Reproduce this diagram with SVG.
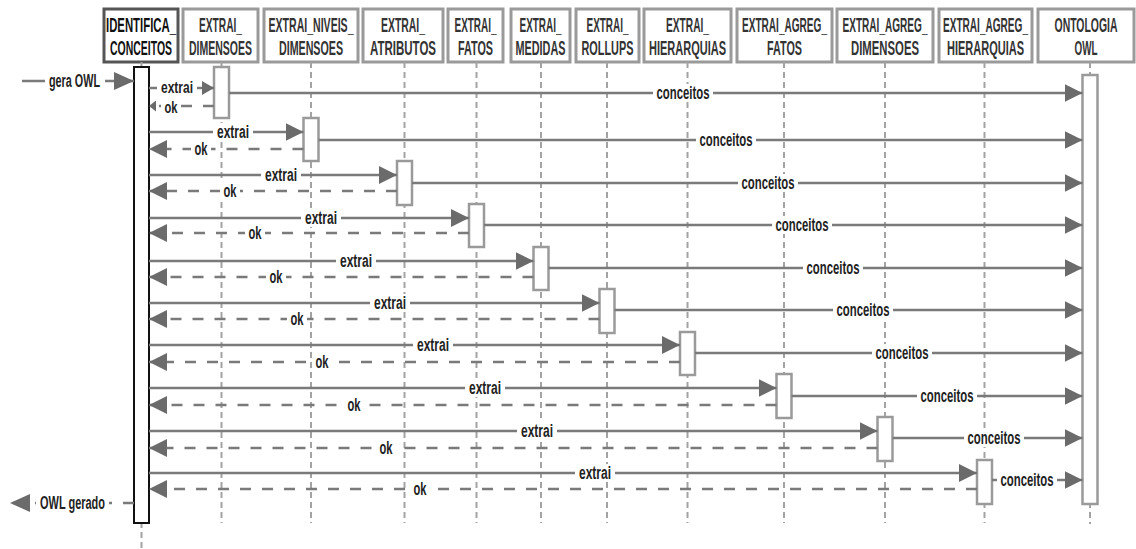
<svg xmlns="http://www.w3.org/2000/svg" width="1136" height="549" viewBox="0 0 1136 549">
<style>
.box{fill:#fff;stroke:#9a9a9a;stroke-width:3}
.box0{fill:#fff;stroke:#555;stroke-width:3}
.hd{font-family:"Liberation Sans",Arial,sans-serif;font-weight:bold;font-size:19.5px;fill:#333;text-anchor:middle}
.life{stroke:#a3a3a3;stroke-width:2;stroke-dasharray:6 4;fill:none}
.act{fill:#fff;stroke:#9a9a9a;stroke-width:2.5}
.act0{fill:#fff;stroke:#111;stroke-width:2}
.msg{stroke:#7a7a7a;stroke-width:2.5;fill:none;marker-end:url(#ah)}
.ret{stroke:#7a7a7a;stroke-width:2.5;stroke-dasharray:11 11;fill:none;marker-end:url(#ah)}
.lb{font-family:"Liberation Sans",Arial,sans-serif;font-weight:bold;font-size:19px;fill:#222;text-anchor:middle}
.lbs{font-size:17px}
.bg{fill:#fff}
</style>
<defs>
<marker id="ah" markerUnits="userSpaceOnUse" markerWidth="18" markerHeight="18" viewBox="0 0 18 18" refX="18" refY="9" orient="auto"><path d="M0,0 L18,9 L0,18 z" fill="#6b6b6b"/></marker>
<marker id="ahs" markerUnits="userSpaceOnUse" markerWidth="12" markerHeight="14" viewBox="0 0 12 14" refX="12" refY="7" orient="auto"><path d="M0,0 L12,7 L0,14 z" fill="#6b6b6b"/></marker>
<marker id="ahxs" markerUnits="userSpaceOnUse" markerWidth="7" markerHeight="11" viewBox="0 0 7 11" refX="7" refY="5.5" orient="auto"><path d="M0,0 L7,5.5 L0,11 z" fill="#6b6b6b"/></marker>
<marker id="ahl" markerUnits="userSpaceOnUse" markerWidth="20" markerHeight="18" viewBox="0 0 20 18" refX="20" refY="9" orient="auto"><path d="M0,0 L20,9 L0,18 z" fill="#6b6b6b"/></marker>
</defs>
<rect width="1136" height="549" fill="#fff"/>

<g id="p1">
<rect class="box0" x="104" y="9" width="74" height="53"/>
<text class="hd" transform="translate(141 32) scale(0.57 1)" textLength="122.8" lengthAdjust="spacingAndGlyphs" style="fill:#111">IDENTIFICA_</text>
<text class="hd" transform="translate(141 55) scale(0.57 1)" textLength="108.8" lengthAdjust="spacingAndGlyphs" style="fill:#111">CONCEITOS</text>
<line class="life" x1="141.5" y1="62" x2="141.5" y2="549"/>
<rect class="act0" x="134" y="67" width="15" height="456"/>
</g>
<g id="p2">
<rect class="box" x="183" y="9" width="75" height="53"/>
<text class="hd" transform="translate(220.5 32) scale(0.57 1)" textLength="75.4" lengthAdjust="spacingAndGlyphs">EXTRAI_</text>
<text class="hd" transform="translate(220.5 55) scale(0.57 1)" textLength="110.5" lengthAdjust="spacingAndGlyphs">DIMENSOES</text>
<line class="life" x1="221.5" y1="62" x2="221.5" y2="523"/>
<rect class="act" x="214" y="67" width="15" height="51"/>
</g>
<g id="p3">
<rect class="box" x="264" y="9" width="94" height="53"/>
<text class="hd" transform="translate(311 32) scale(0.57 1)" textLength="149.1" lengthAdjust="spacingAndGlyphs">EXTRAI_NIVEIS_</text>
<text class="hd" transform="translate(311 55) scale(0.57 1)" textLength="112.3" lengthAdjust="spacingAndGlyphs">DIMENSOES</text>
<line class="life" x1="311" y1="62" x2="311" y2="523"/>
<rect class="act" x="303.5" y="118" width="15" height="43"/>
</g>
<g id="p4">
<rect class="box" x="363" y="9" width="80" height="53"/>
<text class="hd" transform="translate(403 32) scale(0.57 1)" textLength="77.2" lengthAdjust="spacingAndGlyphs">EXTRAI_</text>
<text class="hd" transform="translate(403 55) scale(0.57 1)" textLength="115.8" lengthAdjust="spacingAndGlyphs">ATRIBUTOS</text>
<line class="life" x1="404.5" y1="62" x2="404.5" y2="523"/>
<rect class="act" x="397" y="161" width="15" height="44"/>
</g>
<g id="p5">
<rect class="box" x="448" y="9" width="55" height="53"/>
<text class="hd" transform="translate(475.5 32) scale(0.57 1)" textLength="73.7" lengthAdjust="spacingAndGlyphs">EXTRAI_</text>
<text class="hd" transform="translate(475.5 55) scale(0.57 1)" textLength="61.4" lengthAdjust="spacingAndGlyphs">FATOS</text>
<line class="life" x1="476.5" y1="62" x2="476.5" y2="523"/>
<rect class="act" x="469" y="204" width="15" height="43"/>
</g>
<g id="p6">
<rect class="box" x="511" y="9" width="59" height="53"/>
<text class="hd" transform="translate(540.5 32) scale(0.57 1)" textLength="73.7" lengthAdjust="spacingAndGlyphs">EXTRAI_</text>
<text class="hd" transform="translate(540.5 55) scale(0.57 1)" textLength="87.7" lengthAdjust="spacingAndGlyphs">MEDIDAS</text>
<line class="life" x1="541" y1="62" x2="541" y2="523"/>
<rect class="act" x="533.5" y="247" width="15" height="43"/>
</g>
<g id="p7">
<rect class="box" x="576" y="9" width="63" height="53"/>
<text class="hd" transform="translate(607.5 32) scale(0.57 1)" textLength="73.7" lengthAdjust="spacingAndGlyphs">EXTRAI_</text>
<text class="hd" transform="translate(607.5 55) scale(0.57 1)" textLength="91.2" lengthAdjust="spacingAndGlyphs">ROLLUPS</text>
<line class="life" x1="607" y1="62" x2="607" y2="523"/>
<rect class="act" x="599.5" y="289" width="15" height="44"/>
</g>
<g id="p8">
<rect class="box" x="644" y="9" width="87" height="53"/>
<text class="hd" transform="translate(687.5 32) scale(0.57 1)" textLength="75.4" lengthAdjust="spacingAndGlyphs">EXTRAI_</text>
<text class="hd" transform="translate(687.5 55) scale(0.57 1)" textLength="135.1" lengthAdjust="spacingAndGlyphs">HIERARQUIAS</text>
<line class="life" x1="687.5" y1="62" x2="687.5" y2="523"/>
<rect class="act" x="680" y="332" width="15" height="43"/>
</g>
<g id="p9">
<rect class="box" x="737" y="9" width="95" height="53"/>
<text class="hd" transform="translate(784.5 32) scale(0.57 1)" textLength="149.1" lengthAdjust="spacingAndGlyphs">EXTRAI_AGREG_</text>
<text class="hd" transform="translate(784.5 55) scale(0.57 1)" textLength="61.4" lengthAdjust="spacingAndGlyphs">FATOS</text>
<line class="life" x1="784" y1="62" x2="784" y2="523"/>
<rect class="act" x="776.5" y="374" width="15" height="44"/>
</g>
<g id="p10">
<rect class="box" x="837" y="9" width="96" height="53"/>
<text class="hd" transform="translate(885 32) scale(0.57 1)" textLength="149.1" lengthAdjust="spacingAndGlyphs">EXTRAI_AGREG_</text>
<text class="hd" transform="translate(885 55) scale(0.57 1)" textLength="119.3" lengthAdjust="spacingAndGlyphs">DIMENSOES</text>
<line class="life" x1="885" y1="62" x2="885" y2="523"/>
<rect class="act" x="877.5" y="417" width="15" height="44"/>
</g>
<g id="p11">
<rect class="box" x="939" y="9" width="93" height="53"/>
<text class="hd" transform="translate(985.5 32) scale(0.57 1)" textLength="149.1" lengthAdjust="spacingAndGlyphs">EXTRAI_AGREG_</text>
<text class="hd" transform="translate(985.5 55) scale(0.57 1)" textLength="135.1" lengthAdjust="spacingAndGlyphs">HIERARQUIAS</text>
<line class="life" x1="984.5" y1="62" x2="984.5" y2="523"/>
<rect class="act" x="977" y="460" width="15" height="44"/>
</g>
<g id="p12">
<rect class="box" x="1038" y="9" width="96" height="53"/>
<text class="hd" transform="translate(1086 32) scale(0.57 1)" textLength="110.5" lengthAdjust="spacingAndGlyphs">ONTOLOGIA</text>
<text class="hd" transform="translate(1086 55) scale(0.57 1)" textLength="40.4" lengthAdjust="spacingAndGlyphs">OWL</text>
<line class="life" x1="1090" y1="62" x2="1090" y2="524"/>
<rect class="act" x="1082.5" y="75" width="15" height="429"/>
</g>

<g id="connectors">
<line class="msg" x1="22" y1="81" x2="134" y2="81" style="marker-end:url(#ahl)"/>
<rect class="bg" x="45" y="72" width="60" height="18"/><text class="lb" transform="translate(74.5 87) scale(0.6 1)" textLength="85" lengthAdjust="spacingAndGlyphs">gera OWL</text>

<line class="msg" x1="149" y1="88" x2="214" y2="88" style="marker-end:url(#ahs)"/>
<line class="ret" x1="214" y1="106" x2="149" y2="106" style="marker-end:url(#ahxs)"/>
<line class="msg" x1="229" y1="93" x2="1082.5" y2="93"/>
<rect class="bg" x="157" y="80" width="40" height="16"/><text class="lb lbs" transform="translate(177 93) scale(0.67 1)" textLength="47.8" lengthAdjust="spacingAndGlyphs">extrai</text>
<rect class="bg" x="161" y="98" width="20" height="16"/><text class="lb lbs" transform="translate(171 112.5) scale(0.67 1)" textLength="19.4" lengthAdjust="spacingAndGlyphs">ok</text>
<rect class="bg" x="653" y="84" width="60" height="18"/><text class="lb" transform="translate(683 99) scale(0.6 1)" textLength="88.3" lengthAdjust="spacingAndGlyphs">conceitos</text>

<line class="msg" x1="149" y1="132" x2="303.5" y2="132"/>
<line class="ret" x1="303.5" y1="149" x2="149" y2="149"/>
<line class="msg" x1="318.5" y1="140" x2="1082.5" y2="140"/>
<rect class="bg" x="213" y="123" width="40" height="18"/><text class="lb" transform="translate(233 138) scale(0.6 1)" textLength="53.3" lengthAdjust="spacingAndGlyphs">extrai</text>
<rect class="bg" x="191" y="140" width="20" height="18"/><text class="lb" transform="translate(201 155) scale(0.6 1)" textLength="21.7" lengthAdjust="spacingAndGlyphs">ok</text>
<rect class="bg" x="696" y="131" width="60" height="18"/><text class="lb" transform="translate(726 146) scale(0.6 1)" textLength="88.3" lengthAdjust="spacingAndGlyphs">conceitos</text>

<line class="msg" x1="149" y1="175" x2="397" y2="175"/>
<line class="ret" x1="397" y1="191" x2="149" y2="191"/>
<line class="msg" x1="412" y1="183" x2="1082.5" y2="183"/>
<rect class="bg" x="261" y="166" width="40" height="18"/><text class="lb" transform="translate(281 181) scale(0.6 1)" textLength="53.3" lengthAdjust="spacingAndGlyphs">extrai</text>
<rect class="bg" x="220" y="182" width="20" height="18"/><text class="lb" transform="translate(230 197) scale(0.6 1)" textLength="21.7" lengthAdjust="spacingAndGlyphs">ok</text>
<rect class="bg" x="738" y="174" width="60" height="18"/><text class="lb" transform="translate(768 189) scale(0.6 1)" textLength="88.3" lengthAdjust="spacingAndGlyphs">conceitos</text>

<line class="msg" x1="149" y1="218" x2="469" y2="218"/>
<line class="ret" x1="469" y1="233" x2="149" y2="233"/>
<line class="msg" x1="484" y1="225" x2="1082.5" y2="225"/>
<rect class="bg" x="301" y="209" width="40" height="18"/><text class="lb" transform="translate(321 224) scale(0.6 1)" textLength="53.3" lengthAdjust="spacingAndGlyphs">extrai</text>
<rect class="bg" x="245" y="224" width="20" height="18"/><text class="lb" transform="translate(255 239) scale(0.6 1)" textLength="21.7" lengthAdjust="spacingAndGlyphs">ok</text>
<rect class="bg" x="772" y="216" width="60" height="18"/><text class="lb" transform="translate(802 231) scale(0.6 1)" textLength="88.3" lengthAdjust="spacingAndGlyphs">conceitos</text>

<line class="msg" x1="149" y1="261" x2="533.5" y2="261"/>
<line class="ret" x1="533.5" y1="277" x2="149" y2="277"/>
<line class="msg" x1="548.5" y1="268" x2="1082.5" y2="268"/>
<rect class="bg" x="336" y="252" width="40" height="18"/><text class="lb" transform="translate(356 267) scale(0.6 1)" textLength="53.3" lengthAdjust="spacingAndGlyphs">extrai</text>
<rect class="bg" x="266" y="268" width="20" height="18"/><text class="lb" transform="translate(276 283) scale(0.6 1)" textLength="21.7" lengthAdjust="spacingAndGlyphs">ok</text>
<rect class="bg" x="803" y="259" width="60" height="18"/><text class="lb" transform="translate(833 274) scale(0.6 1)" textLength="88.3" lengthAdjust="spacingAndGlyphs">conceitos</text>

<line class="msg" x1="149" y1="303" x2="599.5" y2="303"/>
<line class="ret" x1="599.5" y1="319" x2="149" y2="319"/>
<line class="msg" x1="614.5" y1="310" x2="1082.5" y2="310"/>
<rect class="bg" x="370" y="294" width="40" height="18"/><text class="lb" transform="translate(390 309) scale(0.6 1)" textLength="53.3" lengthAdjust="spacingAndGlyphs">extrai</text>
<rect class="bg" x="287" y="310" width="20" height="18"/><text class="lb" transform="translate(297 325) scale(0.6 1)" textLength="21.7" lengthAdjust="spacingAndGlyphs">ok</text>
<rect class="bg" x="833" y="301" width="60" height="18"/><text class="lb" transform="translate(863 316) scale(0.6 1)" textLength="88.3" lengthAdjust="spacingAndGlyphs">conceitos</text>

<line class="msg" x1="149" y1="345" x2="680" y2="345"/>
<line class="ret" x1="680" y1="362" x2="149" y2="362"/>
<line class="msg" x1="695" y1="353" x2="1082.5" y2="353"/>
<rect class="bg" x="413" y="336" width="40" height="18"/><text class="lb" transform="translate(433 351) scale(0.6 1)" textLength="53.3" lengthAdjust="spacingAndGlyphs">extrai</text>
<rect class="bg" x="312" y="353" width="20" height="18"/><text class="lb" transform="translate(322 368) scale(0.6 1)" textLength="21.7" lengthAdjust="spacingAndGlyphs">ok</text>
<rect class="bg" x="872" y="344" width="60" height="18"/><text class="lb" transform="translate(902 359) scale(0.6 1)" textLength="88.3" lengthAdjust="spacingAndGlyphs">conceitos</text>

<line class="msg" x1="149" y1="388" x2="776.5" y2="388"/>
<line class="ret" x1="776.5" y1="405" x2="149" y2="405"/>
<line class="msg" x1="791.5" y1="396" x2="1082.5" y2="396"/>
<rect class="bg" x="465" y="379" width="40" height="18"/><text class="lb" transform="translate(485 394) scale(0.6 1)" textLength="53.3" lengthAdjust="spacingAndGlyphs">extrai</text>
<rect class="bg" x="344" y="396" width="20" height="18"/><text class="lb" transform="translate(354 411) scale(0.6 1)" textLength="21.7" lengthAdjust="spacingAndGlyphs">ok</text>
<rect class="bg" x="917" y="387" width="60" height="18"/><text class="lb" transform="translate(947 402) scale(0.6 1)" textLength="88.3" lengthAdjust="spacingAndGlyphs">conceitos</text>

<line class="msg" x1="149" y1="431" x2="877.5" y2="431"/>
<line class="ret" x1="877.5" y1="448" x2="149" y2="448"/>
<line class="msg" x1="892.5" y1="438" x2="1082.5" y2="438"/>
<rect class="bg" x="517" y="422" width="40" height="18"/><text class="lb" transform="translate(537 437) scale(0.6 1)" textLength="53.3" lengthAdjust="spacingAndGlyphs">extrai</text>
<rect class="bg" x="376" y="439" width="20" height="18"/><text class="lb" transform="translate(386 454) scale(0.6 1)" textLength="21.7" lengthAdjust="spacingAndGlyphs">ok</text>
<rect class="bg" x="964" y="429" width="60" height="18"/><text class="lb" transform="translate(994 444) scale(0.6 1)" textLength="88.3" lengthAdjust="spacingAndGlyphs">conceitos</text>

<line class="msg" x1="149" y1="473" x2="977" y2="473"/>
<line class="ret" x1="977" y1="489" x2="149" y2="489"/>
<line class="msg" x1="992" y1="480" x2="1082.5" y2="480"/>
<rect class="bg" x="575" y="464" width="40" height="18"/><text class="lb" transform="translate(595 479) scale(0.6 1)" textLength="53.3" lengthAdjust="spacingAndGlyphs">extrai</text>
<rect class="bg" x="410" y="480" width="20" height="18"/><text class="lb" transform="translate(420 495) scale(0.6 1)" textLength="21.7" lengthAdjust="spacingAndGlyphs">ok</text>
<rect class="bg" x="997" y="471" width="60" height="18"/><text class="lb" transform="translate(1027 486) scale(0.6 1)" textLength="88.3" lengthAdjust="spacingAndGlyphs">conceitos</text>

<line class="ret" x1="134" y1="503" x2="10" y2="503" style="marker-end:url(#ahl)"/>
<rect class="bg" x="36" y="494" width="73" height="18"/><text class="lb" transform="translate(72.5 509) scale(0.6 1)" textLength="108.3" lengthAdjust="spacingAndGlyphs">OWL gerado</text>
</g>
</svg>
